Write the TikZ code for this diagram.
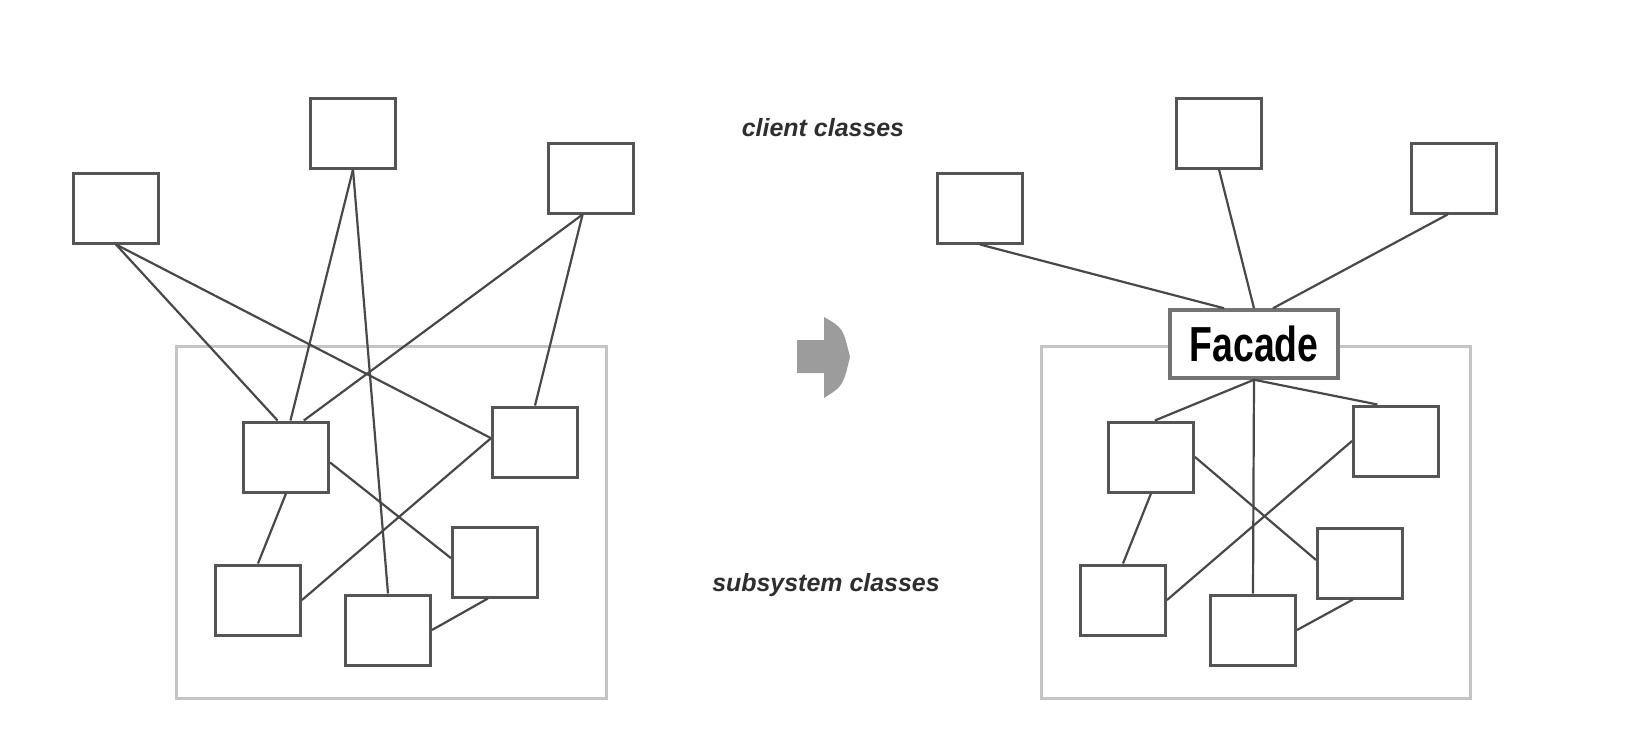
\documentclass[tikz,border=0pt]{standalone}
\usepackage{fontspec}
\setmainfont{Liberation Sans}
\usepackage{tikz}
\definecolor{boxline}{HTML}{555555}
\definecolor{wire}{HTML}{484848}
\definecolor{frame}{HTML}{C4C4C4}
\definecolor{arrowgray}{HTML}{9C9C9C}
\definecolor{inkgray}{HTML}{2E2E2E}
\tikzset{
  cls/.style={draw=boxline, line width=0.3mm, fill=white, minimum width=8.5mm, minimum height=7mm, inner sep=0pt},
  sysbox/.style={draw=frame, line width=0.3mm, inner sep=0pt},
  facadebox/.style={draw=black!55, line width=0.35mm, fill=white, minimum width=16.8mm, minimum height=6.8mm, inner sep=0pt, font=\fontsize{14}{14}\selectfont\bfseries},
  link/.style={draw=wire, line width=0.22mm},
  caption/.style={font=\fontsize{7.1}{8}\selectfont\bfseries\itshape, text=inkgray},
}

\begin{document}
\begin{tikzpicture}[x=0.1mm, y=-0.1mm]
  \useasboundingbox (0,0) rectangle (1646,752);

  % Left: clients wired straight into the subsystem
  \node[sysbox, minimum width=43mm, minimum height=35.2mm] (lsys) at (391,522) {};
  \node[cls] (lc1) at (116,208) {};
  \node[cls] (lc2) at (353,133) {};
  \node[cls] (lc3) at (591,178) {};
  \node[cls] (ls1) at (286,457) {};
  \node[cls] (ls2) at (535,442) {};
  \node[cls] (ls3) at (495,562) {};
  \node[cls] (ls4) at (258,600) {};
  \node[cls] (ls5) at (388,630) {};
  \draw[link] (lc1.south) -- (ls1.103);
  \draw[link] (lc1.south) -- (ls2.175);
  \draw[link] (lc2.south) -- (ls1.83);
  \draw[link] (lc2.south) -- (ls5.north);
  \draw[link] (lc3.257) -- (ls1.64);
  \draw[link] (lc3.257) -- (ls2.north);
  \draw[link] (ls1.south) -- (ls4.north);
  \draw[link] (ls1.-7) -- (ls3.175);
  \draw[link] (ls2.175) -- (ls4.east);
  \draw[link] (ls3.259) -- (ls5.east);

  % Middle: captions and the big arrow
  \node[caption] (clientcap) at (823,128) {client classes};
  \node[caption] (subcap) at (826,585) {subsystem classes};
  \fill[arrowgray] (797,340) -- (824,340) -- (824,317) .. controls (843,328) .. (850,357)
    .. controls (843,386) .. (824,398) -- (824,373) -- (797,373) -- cycle;

  % Right: everything goes through the facade
  \node[sysbox, minimum width=42.9mm, minimum height=35.2mm] (rsys) at (1256,522) {};
  \node[facadebox] (facade) at (1254,344) {\scalebox{0.76}[1]{Facade}};
  \node[cls] (rc1) at (980,208) {};
  \node[cls] (rc2) at (1219,133) {};
  \node[cls] (rc3) at (1454,178) {};
  \node[cls] (rs1) at (1151,457) {};
  \node[cls] (rs2) at (1396,441) {};
  \node[cls] (rs3) at (1360,563) {};
  \node[cls] (rs4) at (1123,600) {};
  \node[cls] (rs5) at (1253,630) {};
  \draw[link] (rc1.south) -- (facade.130);
  \draw[link] (rc2.south) -- (facade.north);
  \draw[link] (rc3.260) -- (facade.62);
  \draw[link] (facade.south) -- (rs1.84);
  \draw[link] (facade.south) -- (rs2.117);
  \draw[link] (facade.south) -- (rs5.north);
  \draw[link] (rs1.east) -- (rs3.176);
  \draw[link] (rs2.west) -- (rs4.east);
  \draw[link] (rs1.south) -- (rs4.north);
  \draw[link] (rs3.259) -- (rs5.east);
\end{tikzpicture}
\end{document}
